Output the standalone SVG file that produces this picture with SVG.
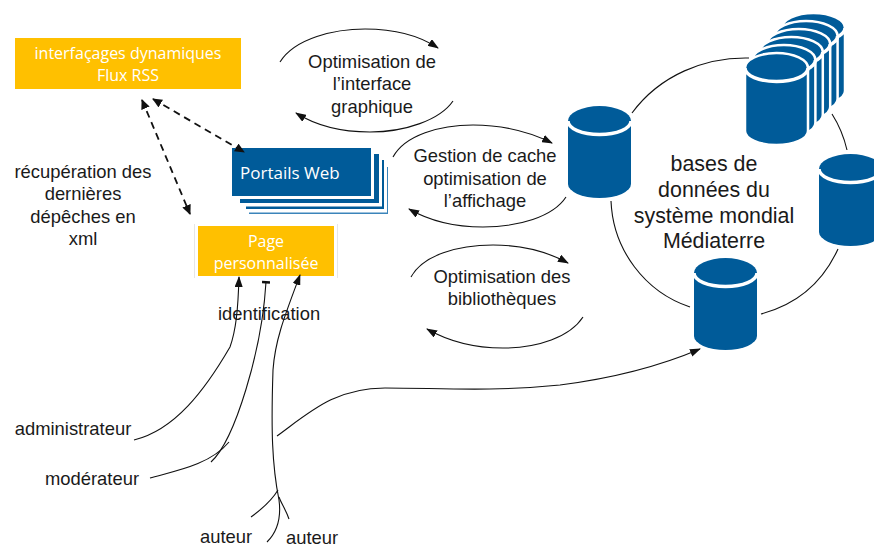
<svg xmlns="http://www.w3.org/2000/svg" width="874" height="548" viewBox="0 0 874 548">
<style>
.t{font-family:"Liberation Sans",Arial,sans-serif;font-size:18.4px;fill:#1a1a1a;text-anchor:middle}
.b{font-size:21.4px}
.w{font-family:"Open Sans","Noto Sans",sans-serif;font-size:16px;fill:#fff;text-anchor:middle}
.c{fill:none;stroke:#111;stroke-width:1.1}
.a{marker-end:url(#ah)}
.d{fill:none;stroke:#111;stroke-width:1.8;stroke-dasharray:7 5}
.o{fill:#ffc000}
.n{fill:#005b99}
.g{fill:#fff}
</style>
<defs>
<marker id="ah" markerWidth="11" markerHeight="8" refX="10" refY="4" orient="auto" markerUnits="userSpaceOnUse"><path d="M0,0 L11,4 L0,8 Z" fill="#111"/></marker>
<marker id="dh" markerWidth="10" markerHeight="9" refX="9" refY="4.5" orient="auto-start-reverse" markerUnits="userSpaceOnUse"><path d="M0,0 L10,4.5 L0,9 Z" fill="#111"/></marker>
<marker id="tb" markerWidth="8" markerHeight="8" refX="6" refY="4" orient="auto" markerUnits="userSpaceOnUse"><path d="M4.500,0 H7 V8 H4.500 Z" fill="#111"/></marker>
<g id="cyl">
<path d="M0,15 V78 A31.500,14 0 0 0 63,78 V15 A31.500,15 0 0 0 0,15 Z" fill="#005b99"/>
<path d="M0,15 A31.500,13.500 0 0 0 63,15" fill="none" stroke="#fff" stroke-width="3.500"/>
</g>
<g id="cylw">
<path d="M0,15 V78 A31.500,14 0 0 0 63,78 V15 A31.500,15 0 0 0 0,15 Z" fill="#005b99" stroke="#fff" stroke-width="2.500"/>
<path d="M0,15 A31.500,13.500 0 0 0 63,15" fill="none" stroke="#fff" stroke-width="3.500"/>
</g>
</defs>

<g id="flux-rss">
<rect class="o" x="15" y="38" width="226" height="51"/>
<text class="w" x="128" y="59">interfaçages dynamiques</text>
<text class="w" x="128" y="81">Flux RSS</text>
</g>

<g id="portails-web">
<rect x="249" y="167" width="139" height="47" fill="#3b84ba"/>
<rect class="g" x="240" y="160" width="147" height="52.500"/>
<rect class="n" x="246" y="160" width="138" height="49"/>
<rect class="g" x="240" y="154" width="142" height="52.500"/>
<rect class="n" x="240" y="154" width="139" height="49"/>
<rect class="g" x="232" y="148" width="142" height="51"/>
<rect class="n" x="232" y="148" width="139" height="48"/>
<text class="w" x="240" y="179" style="text-anchor:start;font-size:17px">Portails Web</text>
</g>

<g id="page-personnalisee">
<path d="M194.500,224 V278 M337.500,224 V278" stroke="#e6e6e6" stroke-width="1" fill="none"/>
<rect class="o" x="198" y="226" width="136" height="50"/>
<text class="w" x="266" y="247">Page</text>
<text class="w" x="266" y="269">personnalisée</text>
</g>

<g id="db-left"><use href="#cyl" x="568" y="106"/></g>
<g id="db-stack">
<use href="#cylw" x="782" y="13"/>
<use href="#cylw" x="774.600" y="21"/>
<use href="#cylw" x="767.200" y="29"/>
<use href="#cylw" x="759.800" y="37"/>
<use href="#cylw" x="752.400" y="45"/>
<use href="#cylw" x="745" y="53"/>
</g>
<g id="db-right"><use href="#cyl" x="819" y="154"/></g>
<g id="db-bottom"><use href="#cyl" x="694" y="258"/></g>

<g id="connectors">
<path class="d" marker-start="url(#dh)" marker-end="url(#dh)" d="M142,100 L190,214"/>
<path class="d" marker-start="url(#dh)" marker-end="url(#dh)" d="M153,99 L244,152"/>
<path class="c a" d="M280,62 C295,38 335,29 365,29 C395,29 420,36 438,48"/>
<path class="c a" d="M453,101 C440,120 405,132 370,132 C340,132 315,125 296,113"/>
<path class="c a" d="M393,157 C405,135 440,125 473,125 C505,125 530,132 552,143"/>
<path class="c a" d="M566,197 C553,217 518,227 483,227 C453,227 428,220 409,209"/>
<path class="c a" d="M411,277 C423,255 458,245 493,245 C525,245 548,252 568,263"/>
<path class="c a" d="M583,317 C570,337 538,348 503,348 C473,348 448,341 427,329"/>
<path class="c" d="M632,113 C660,75 705,57 749,58"/>
<path class="c" d="M832,114 C839,125 844,137 847,150"/>
<path class="c" d="M838,249 C822,284 795,305 761,314"/>
<path class="c" d="M690,307 C645,292 613,250 611,201"/>
<path class="c a" d="M134,440 C175,430 205,390 230,347 C236,330 238,310 239,277"/>
<path class="c" d="M150,478 C175,471 210,465 229,442"/>
<path class="c" marker-end="url(#tb)" d="M211,462 C235,440 262,350 266,282"/>
<path class="c a" d="M267,542 C279,530 281,515 279,500 C272,465 271,430 273,370 C275,340 285,315 300,275"/>
<path class="c" d="M251,517 C262,509 272,500 278,490"/>
<path class="c" d="M289,519 C286,510 281,503 279,497"/>
<path class="c a" d="M277,436 C310,412 335,388 385,388 C440,388 490,392 560,385 C615,378 660,366 700,349"/>
</g>

<g id="labels">
<text class="t" x="372" y="68">Optimisation de</text>
<text class="t" x="372" y="90">l’interface</text>
<text class="t" x="372" y="113">graphique</text>
<text class="t" x="485" y="162">Gestion de cache</text>
<text class="t" x="485" y="185">optimisation de</text>
<text class="t" x="485" y="207">l’affichage</text>
<text class="t" x="502" y="283">Optimisation des</text>
<text class="t" x="502" y="305">bibliothèques</text>
<text class="t" x="83" y="178">récupération des</text>
<text class="t" x="83" y="200">dernières</text>
<text class="t" x="83" y="223">dépêches en</text>
<text class="t" x="83" y="245">xml</text>
<text class="t" x="269" y="320">identification</text>
<text class="t" x="73" y="435">administrateur</text>
<text class="t" x="92" y="485">modérateur</text>
<text class="t" x="226" y="543">auteur</text>
<text class="t" x="312" y="544">auteur</text>
<text class="t b" x="714" y="171">bases de</text>
<text class="t b" x="714" y="197">données du</text>
<text class="t b" x="714" y="223">système mondial</text>
<text class="t b" x="714" y="248">Médiaterre</text>
</g>
</svg>
